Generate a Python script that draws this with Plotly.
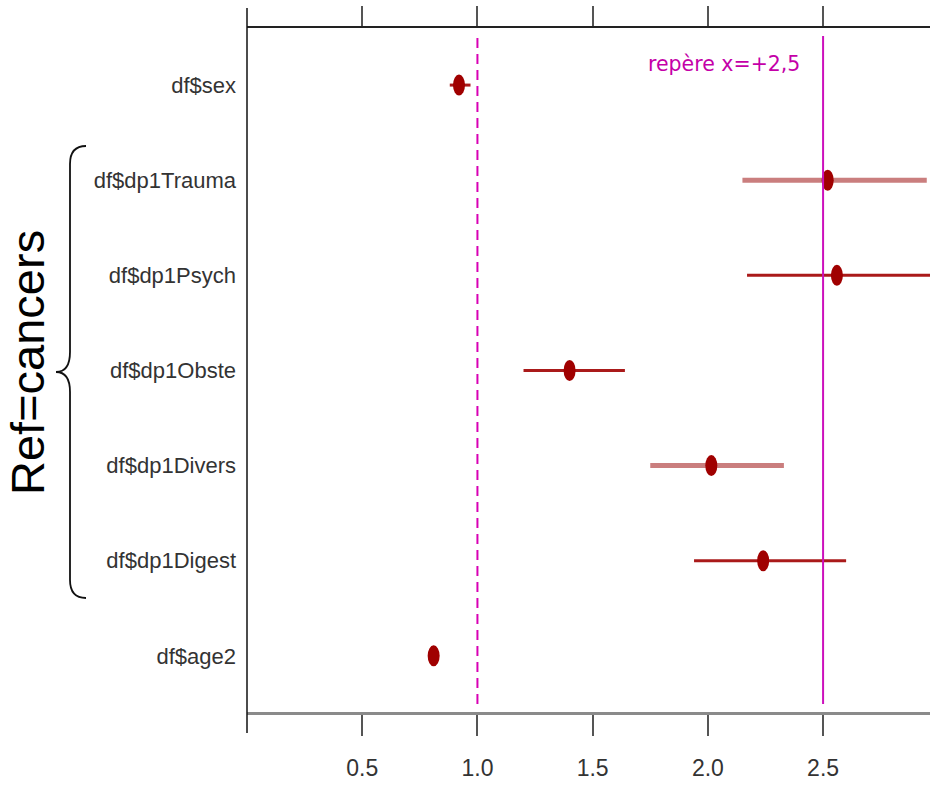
import plotly.graph_objects as go

# ---- data ----
labels = ["df$sex", "df$dp1Trauma", "df$dp1Psych", "df$dp1Obste",
          "df$dp1Divers", "df$dp1Digest", "df$age2"]
estimate = [0.92, 2.52, 2.56, 1.40, 2.015, 2.24, 0.81]
ci_low = [0.88, 2.15, 2.17, 1.20, 1.75, 1.94, 0.80]
ci_high = [0.97, 2.95, 3.10, 1.64, 2.33, 2.60, 0.82]
faded = ["df$dp1Trauma", "df$dp1Divers"]
x_ticks = [0.5, 1.0, 1.5, 2.0, 2.5]
x_tick_text = ["0.5", "1.0", "1.5", "2.0", "2.5"]
ref_line = 1.0
mark_line = 2.5

# ---- geometry ----
W, H = 930, 785
L, R, T, B = 247, 0, 28, 73
PW, PH = W - L - R, H - T - B
n = len(labels)
ypos = list(range(n - 1, -1, -1))  # first label at top
XR = [0, 2.964]
YR = [-0.59, n - 1 + 0.6]

def px2paper(px, py):
    return (px - L) / PW, (H - B - py) / PH

font_lab = "Liberation Sans, Arial"
dark = "#A00000"
thin_col = "#AA1A1A"
light_col = "rgba(196,112,112,0.9)"
magenta = "#D800B4"

fig = go.Figure()

# CI lines
for lab, y, lo, hi in zip(labels, ypos, ci_low, ci_high):
    is_f = lab in faded
    fig.add_trace(go.Scatter(
        x=[lo, hi], y=[y, y], mode="lines",
        line=dict(color=light_col if is_f else thin_col, width=5 if is_f else 3),
        hoverinfo="skip", showlegend=False))

# point estimates
fig.add_trace(go.Scatter(
    x=estimate, y=ypos, mode="markers",
    marker=dict(color=dark, size=11, line=dict(width=0)),
    text=labels, showlegend=False))

shapes = []
# elliptical point marks (data coordinates)
ew = 6 / (PW / (XR[1] - XR[0]))
eh = 10.5 / (PH / (YR[1] - YR[0]))
for e, y in zip(estimate, ypos):
    shapes.append(dict(type="circle", xref="x", yref="y",
                       x0=e - ew, x1=e + ew, y0=y - eh, y1=y + eh,
                       fillcolor=dark, line=dict(width=0), layer="above"))

# reference lines
_, yt = px2paper(0, 36)
_, yb = px2paper(0, 704)
shapes.append(dict(type="line", xref="x", yref="paper", x0=ref_line, x1=ref_line,
                   y0=yb, y1=yt, line=dict(color=magenta, width=2, dash="10px,6px")))
shapes.append(dict(type="line", xref="x", yref="paper", x0=mark_line, x1=mark_line,
                   y0=yb, y1=yt, line=dict(color="#CC10BC", width=2)))

# left frame line spanning tick areas
_, ytop = px2paper(0, 8)
_, ybot = px2paper(0, 733)
shapes.append(dict(type="line", xref="paper", yref="paper", x0=0, x1=0,
                   y0=ybot, y1=ytop, line=dict(color="#111", width=1.5)))

# brace
def P(px, py):
    a, b = px2paper(px, py)
    return f"{a:.5f},{b:.5f}"

brace = (f"M {P(86,146)} Q {P(70,146)} {P(70,164)} L {P(70,352)} "
         f"Q {P(70,372)} {P(56,372)} Q {P(70,372)} {P(70,392)} "
         f"L {P(70,580)} Q {P(70,598)} {P(86,598)}")
shapes.append(dict(type="path", xref="paper", yref="paper", path=brace,
                   line=dict(color="#111", width=1.8)))

ax, ay = px2paper(27, 363)
annotations = [
    dict(text="Ref=cancers", xref="paper", yref="paper", x=ax, y=ay,
         xanchor="center", yanchor="middle",
         textangle=-90, showarrow=False,
         font=dict(family="Liberation Sans, Arial", size=47, color="#000")),
    dict(text="repère x=+2,5", xref="x", yref="paper", x=2.068,
         y=px2paper(0, 64)[1], xanchor="center", yanchor="middle",
         showarrow=False,
         font=dict(family="DejaVu Sans, Verdana", size=20.5, color="#C400A8")),
]

fig.update_layout(
    width=W, height=H,
    margin=dict(l=L, r=R, t=T, b=B, pad=0),
    paper_bgcolor="white", plot_bgcolor="white",
    shapes=shapes, annotations=annotations,
    showlegend=False,
    xaxis=dict(range=XR, tickvals=x_ticks, ticktext=x_tick_text,
               showgrid=False, zeroline=False,
               showline=True, linecolor="#8a8a8a", linewidth=3,
               ticks="outside", ticklen=21, tickwidth=2, tickcolor="#555",
               ticklabelstandoff=12,
               tickfont=dict(family=font_lab, size=23, color="#333")),
    xaxis2=dict(range=XR, overlaying="x", side="top", matches="x",
                tickvals=x_ticks, showticklabels=False,
                showgrid=False, zeroline=False,
                showline=True, linecolor="#222", linewidth=2,
                ticks="outside", ticklen=20, tickwidth=2, tickcolor="#555"),
    yaxis=dict(range=YR, tickvals=ypos, ticktext=labels,
               showgrid=False, zeroline=False, showline=False,
               ticks="", ticklabelstandoff=10,
               tickfont=dict(family=font_lab, size=22, color="#333")),
)

# dummy trace to activate top axis
fig.add_trace(go.Scatter(x=[None], y=[None], xaxis="x2", showlegend=False,
                         hoverinfo="skip"))

fig.write_html("out.html",
               config={"displayModeBar": False},
               post_script="document.body.style.margin='0';"
                           "document.body.style.overflow='hidden';")
